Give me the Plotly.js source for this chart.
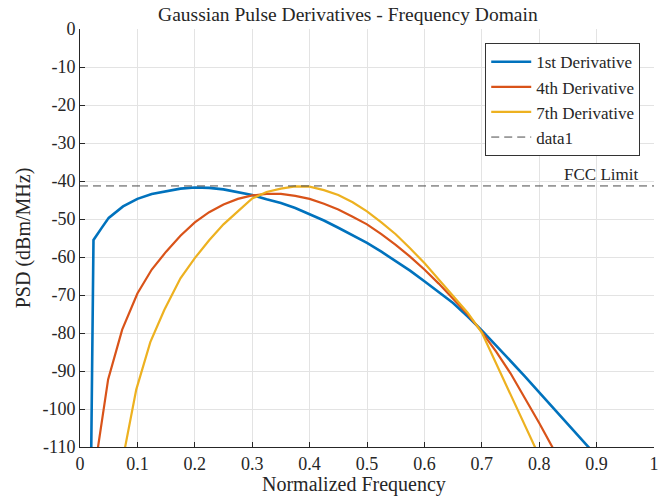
<!DOCTYPE html>
<html>
<head>
<meta charset="utf-8">
<script src="https://cdn.plot.ly/plotly-3.0.1.min.js"></script>
<style>html,body{margin:0;padding:0;background:#fff}#chart{width:669px;height:497px}</style>
</head>
<body>
<div id="chart"></div>
<script>
// Data
var seriesNames = ["1st Derivative", "4th Derivative", "7th Derivative", "data1"];

var firstX = [0.0195, 0.0235, 0.0375, 0.05, 0.075, 0.1, 0.125, 0.15, 0.175, 0.2, 0.225, 0.25, 0.275, 0.3, 0.325, 0.35, 0.375, 0.4, 0.425, 0.45, 0.475, 0.5, 0.525, 0.55, 0.575, 0.6, 0.625, 0.65, 0.675, 0.7, 0.725, 0.75, 0.775, 0.8, 0.825, 0.85, 0.875, 0.9];
var firstY = [-112, -55.5, -52.4, -49.7, -46.7, -44.7, -43.4, -42.6, -42.0, -41.7, -41.8, -42.2, -42.9, -43.7, -44.8, -45.8, -47.1, -48.7, -50.4, -52.3, -54.3, -56.3, -58.6, -61.0, -63.6, -66.4, -69.2, -72.1, -75.6, -79.3, -83.3, -87.3, -91.4, -95.6, -99.8, -104.0, -108.2, -112.4];

var fourthX = [0.0245, 0.049, 0.0735, 0.1, 0.125, 0.15, 0.175, 0.2, 0.225, 0.25, 0.275, 0.3, 0.325, 0.35, 0.375, 0.4, 0.425, 0.45, 0.475, 0.5, 0.525, 0.55, 0.575, 0.6, 0.625, 0.65, 0.675, 0.7, 0.725, 0.75, 0.775, 0.8, 0.825];
var fourthY = [-117, -92.2, -79.1, -69.6, -63.3, -58.6, -54.4, -50.9, -48.2, -46.2, -44.7, -43.8, -43.4, -43.4, -43.9, -44.7, -46.0, -47.5, -49.4, -51.4, -54.0, -56.8, -59.9, -63.3, -67.0, -71.0, -75.0, -79.7, -84.9, -90.6, -97.0, -103.7, -110.6];

var seventhX = [0.0735, 0.098, 0.1225, 0.147, 0.175, 0.2, 0.225, 0.25, 0.275, 0.3, 0.325, 0.35, 0.375, 0.4, 0.425, 0.45, 0.475, 0.5, 0.525, 0.55, 0.575, 0.6, 0.625, 0.65, 0.675, 0.7, 0.725, 0.75, 0.775, 0.8];
var seventhY = [-114, -94.9, -82.4, -73.9, -65.6, -60.3, -55.6, -51.4, -48.0, -44.6, -42.9, -42.0, -41.4, -41.5, -42.4, -43.7, -45.6, -48.0, -50.9, -54.0, -57.7, -61.6, -65.9, -70.3, -74.6, -79.9, -88.0, -96.0, -104.0, -112.4];

var fccX = [0, 1];
var fccY = [-41.3, -41.3];
var fccLabel = "FCC Limit";

var xTicks = [0, 0.1, 0.2, 0.3, 0.4, 0.5, 0.6, 0.7, 0.8, 0.9, 1];
var xTickText = ["0", "0.1", "0.2", "0.3", "0.4", "0.5", "0.6", "0.7", "0.8", "0.9", "1"];
var yTicks = [0, -10, -20, -30, -40, -50, -60, -70, -80, -90, -100, -110];
var yTickText = ["0", "-10", "-20", "-30", "-40", "-50", "-60", "-70", "-80", "-90", "-100", "-110"];

var xLabel = "Normalized Frequency";
var yLabel = "PSD (dBm/MHz)";
var chartTitle = "Gaussian Pulse Derivatives - Frequency Domain";

var serif = "Liberation Serif, Times New Roman, serif";
var ink = "#262626";

var traces = [
  {x: firstX, y: firstY, name: seriesNames[0], mode: "lines", line: {color: "#0072BD", width: 2.6}},
  {x: fourthX, y: fourthY, name: seriesNames[1], mode: "lines", line: {color: "#D95319", width: 2.2}},
  {x: seventhX, y: seventhY, name: seriesNames[2], mode: "lines", line: {color: "#EDB120", width: 2.2}},
  {x: fccX, y: fccY, name: seriesNames[3], mode: "lines", line: {color: "#4a4a4a", width: 1, dash: "8px,5px"}}
];

var axisCommon = {
  showgrid: true, gridcolor: "#e3e3e3", gridwidth: 1,
  zeroline: false, showline: true, linecolor: ink, linewidth: 1,
  ticks: "inside", ticklen: 5, tickcolor: ink,
  tickfont: {family: serif, size: 18, color: ink}
};

var layout = {
  width: 669, height: 497,
  margin: {l: 80, r: 15, t: 29, b: 50},
  paper_bgcolor: "#ffffff", plot_bgcolor: "#ffffff",
  font: {family: serif, color: ink},
  title: {text: chartTitle, font: {family: serif, size: 19.5, color: ink}, x: 0.52, xanchor: "center", y: 0.985, yanchor: "top"},
  xaxis: Object.assign({}, axisCommon, {
    range: [0, 1], tickvals: xTicks, ticktext: xTickText
  }),
  yaxis: Object.assign({}, axisCommon, {
    range: [-110, 0], tickvals: yTicks, ticktext: yTickText,
    title: {text: yLabel, font: {family: serif, size: 20, color: ink}, standoff: 6}
  }),
  showlegend: true,
  legend: {
    x: 0.976, xanchor: "right", y: 0.966, yanchor: "top",
    bgcolor: "#ffffff", bordercolor: "#333333", borderwidth: 1,
    font: {family: serif, size: 17, color: ink},
    tracegroupgap: 0, itemwidth: 40
  },
  annotations: [
    {
      x: 0.975, y: fccY[0], xref: "x", yref: "y", text: fccLabel, showarrow: false,
      xanchor: "right", yanchor: "bottom", yshift: 0,
      font: {family: serif, size: 17, color: ink}
    },
    {
      x: 0.477, y: 0, xref: "paper", yref: "paper", text: xLabel, showarrow: false,
      xanchor: "center", yanchor: "middle", yshift: -37, borderpad: 0,
      font: {family: serif, size: 20, color: ink}
    }
  ]
};

Plotly.newPlot("chart", traces, layout, {displayModeBar: false, staticPlot: true});
</script>
</body>
</html>
